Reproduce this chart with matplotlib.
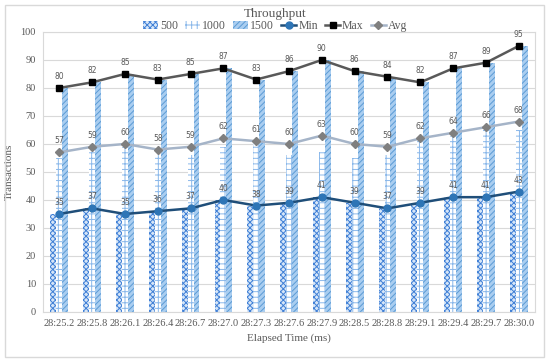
import numpy as np
import matplotlib.pyplot as plt
from matplotlib.patches import Rectangle

# data
times = ['28:25.2', '28:25.8', '28:26.1', '28:26.4', '28:26.7', '28:27.0', '28:27.3',
         '28:27.6', '28:27.9', '28:28.5', '28:28.8', '28:29.1', '28:29.4', '28:29.7', '28:30.0']
bar_500 = [35, 37, 35, 36, 37, 40, 38, 39, 41, 39, 37, 39, 41, 41, 43]
bar_1000 = [55, 57, 59, 56, 56, 59, 61, 56, 57, 55, 56, 61, 63, 66, 65]
bar_1500 = [80, 82, 85, 83, 85, 87, 83, 86, 90, 86, 84, 82, 87, 89, 95]
min_vals = [35, 37, 35, 36, 37, 40, 38, 39, 41, 39, 37, 39, 41, 41, 43]
max_vals = [80, 82, 85, 83, 85, 87, 83, 86, 90, 86, 84, 82, 87, 89, 95]
avg_vals = [57, 59, 60, 58, 59, 62, 61, 60, 63, 60, 59, 62, 64, 66, 68]

plt.rcParams['font.family'] = ['Liberation Serif', 'DejaVu Serif']
plt.rcParams['hatch.linewidth'] = 0.7

fig = plt.figure(figsize=(5.5, 3.63), dpi=100)
ax = fig.add_axes([0.078, 0.1405, 0.895, 0.7715])

# outer chart border
fig.patches.append(Rectangle((0.009, 0.0165), 0.98, 0.97, transform=fig.transFigure,
                             fill=False, edgecolor='#d9d9d9', linewidth=1.0))

x = np.arange(len(times))
w = 0.18

ax.bar(x - w, bar_500, w, color='#d6e6f8', edgecolor='#3f7fd6', hatch='xxxxxx',
       linewidth=0, label='500', zorder=2)
ax.bar(x, bar_1000, w, color='white', edgecolor='#8ab8ea', hatch='+++',
       linewidth=0, label='1000', zorder=2)
ax.bar(x + w, bar_1500, w, color='#a9cdf0', edgecolor='#5b9bd5', hatch='//////',
       linewidth=0, label='1500', zorder=2)

ax.plot(x, min_vals, color='#1f4e79', linewidth=1.8, marker='o', markersize=5,
        markerfacecolor='#2e75b6', markeredgecolor='#2e75b6', label='Min', zorder=4)
ax.plot(x, max_vals, color='#595959', linewidth=1.8, marker='s', markersize=5,
        markerfacecolor='black', markeredgecolor='black', label='Max', zorder=4)
ax.plot(x, avg_vals, color='#a5b4c8', linewidth=1.8, marker='D', markersize=4.5,
        markerfacecolor='#7f7f7f', markeredgecolor='#7f7f7f', label='Avg', zorder=4)

# data labels
for series in (min_vals, max_vals, avg_vals):
    for xi, v in zip(x, series):
        ax.annotate(str(v), (xi, v), xytext=(0, 5), textcoords='offset points',
                    ha='center', va='bottom', fontsize=5.5, color='#595959',
                    family='DejaVu Sans', zorder=5)

ax.set_xlim(-0.5, len(times) - 0.5)
ax.set_ylim(0, 100)
ax.set_yticks(range(0, 101, 10))
ax.set_xticks(x)
ax.set_xticklabels(times)
ax.tick_params(axis='both', length=0, labelsize=7.5, colors='#595959', pad=5)
ax.grid(axis='y', color='#d9d9d9', linewidth=0.8, zorder=0)
ax.set_axisbelow(True)
for s in ax.spines.values():
    s.set_color('#d9d9d9')
    s.set_linewidth(0.8)

ax.set_xlabel('Elapsed Time (ms)', fontsize=8, color='#595959', labelpad=4)
ax.set_ylabel('Transactions', fontsize=8, color='#595959', labelpad=5)

fig.text(0.5, 0.962, 'Throughput', ha='center', va='center', fontsize=9.5, color='#595959')
handles, labels = ax.get_legend_handles_labels()
order = [3, 4, 5, 0, 1, 2]
ax.legend([handles[i] for i in order], [labels[i] for i in order],
          loc='center', bbox_to_anchor=(0.5, 0.928), bbox_transform=fig.transFigure,
          ncol=6, frameon=False, fontsize=8.5, handlelength=1.3, handletextpad=0.15,
          columnspacing=0.6, labelcolor='#595959', borderaxespad=0)

fig.savefig('out.png', dpi=100)
